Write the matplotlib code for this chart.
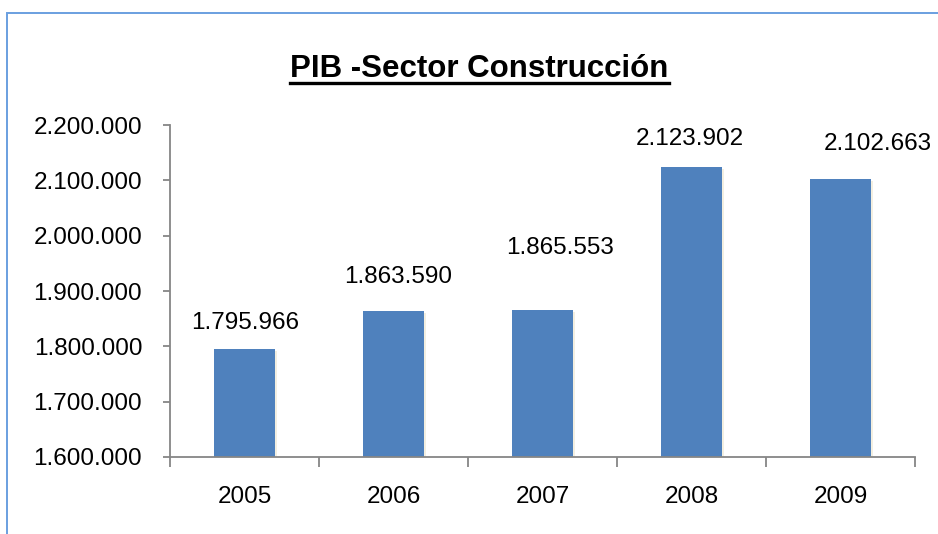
import matplotlib.pyplot as plt
import matplotlib.patches as mpatches
from matplotlib.lines import Line2D
import numpy as np

plt.rcParams['font.family'] = ['Liberation Sans', 'DejaVu Sans']

# Datos
years = ['2005', '2006', '2007', '2008', '2009']
pib = [1795966, 1863590, 1865553, 2123902, 2102663]
value_labels = ['1.795.966', '1.863.590', '1.865.553', '2.123.902', '2.102.663']
y_ticks = [1600000, 1700000, 1800000, 1900000, 2000000, 2100000, 2200000]
y_tick_labels = ['1.600.000', '1.700.000', '1.800.000', '1.900.000',
                 '2.000.000', '2.100.000', '2.200.000']

# label offsets (pixels) as placed by hand in the original
label_offsets = [(1, 26), (5, 34), (18, 62), (-2, 28), (37, 35)]

fig = plt.figure(figsize=(9.38, 5.34), dpi=100)
ax = fig.add_axes([0.1812, 0.1442, 0.7943, 0.6217])

x = np.arange(len(years))
bar_color = '#4F81BD'
fs = 17.5
# soft shadow behind bars
ax.bar(x + 0.006, np.array(pib) - 4000, width=0.425, bottom=0, color='#E6DDBE',
       alpha=0.45, zorder=1)
ax.bar(x, pib, width=0.415, color=bar_color, zorder=2)

ax.set_xlim(-0.5, 4.5)
ax.set_ylim(1600000, 2200000)
ax.set_yticks(y_ticks)
ax.set_yticklabels(y_tick_labels, fontsize=fs)
ax.set_xticks(x)
ax.set_xticklabels(years, fontsize=fs)
ax.set_xticks(np.arange(-0.5, 5, 1), minor=True)

axis_gray = '#868686'
for side in ['top', 'right']:
    ax.spines[side].set_visible(False)
for side in ['left', 'bottom']:
    ax.spines[side].set_color(axis_gray)
    ax.spines[side].set_linewidth(1.3)

ax.tick_params(axis='x', which='major', length=0, pad=21)
ax.tick_params(axis='x', which='minor', length=7, color=axis_gray, width=1.3)
ax.tick_params(axis='y', length=5, color=axis_gray, width=1.3, pad=15)

for i, (v, lab) in enumerate(zip(pib, value_labels)):
    dx, dy = label_offsets[i]
    ax.annotate(lab, xy=(x[i], v), xytext=(dx, dy), textcoords='offset pixels',
                ha='center', va='center', fontsize=fs, annotation_clip=False)

# title with underline
title = fig.text(0.511, 1 - 69 / 534, 'PIB -Sector Construcción', ha='center',
                 va='center', fontsize=22.5, fontweight='bold')
fig.canvas.draw()
bb = title.get_window_extent().transformed(fig.transFigure.inverted())
uy = 1 - 83 / 534
fig.add_artist(Line2D([bb.x0, bb.x1], [uy, uy], color='black', linewidth=2.4,
                      transform=fig.transFigure))

# chart border (cut off at right and bottom)
border = mpatches.Rectangle((7 / 938, -0.1), 1.2, 1.1 - 13 / 534, fill=False,
                            edgecolor='#6A9FE0', linewidth=1.4,
                            transform=fig.transFigure)
fig.add_artist(border)

fig.savefig('out.png', dpi=100)
